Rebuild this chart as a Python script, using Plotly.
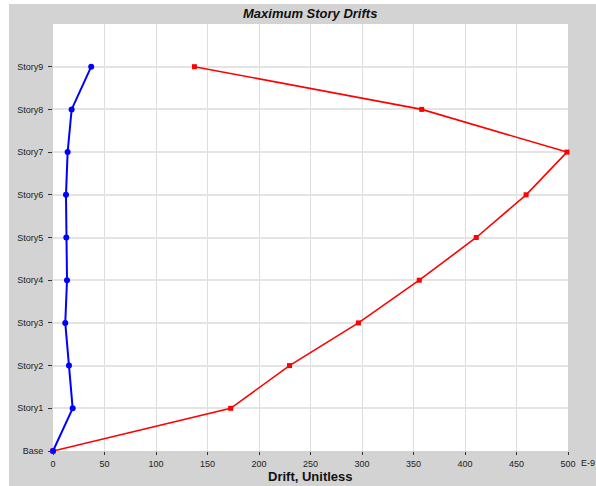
import plotly.graph_objects as go

stories = ["Base", "Story1", "Story2", "Story3", "Story4", "Story5", "Story6", "Story7", "Story8", "Story9"]
drift_x = [0, 19.1, 15.5, 11.9, 13.6, 12.9, 12.6, 14.2, 18.1, 37.1]
drift_y = [0, 172.5, 229.6, 296.5, 355.6, 410.9, 459.3, 499.0, 358.0, 137.3]
x_ticks = [0, 50, 100, 150, 200, 250, 300, 350, 400, 450, 500]

W, H = 596, 486
L, R, T, B = 53, 568, 24, 451
pw, ph = R - L, B - T

def px_x(p):
    return (p - L) / pw

def px_y(p):
    return (B - p) / ph

levels = list(range(len(stories)))

fig = go.Figure()
fig.add_trace(go.Scatter(
    x=drift_y, y=levels, mode="lines+markers",
    line=dict(color="#ff0000", width=1.6),
    marker=dict(symbol="square", size=5, color="#ff0000"),
    cliponaxis=False, showlegend=False))
fig.add_trace(go.Scatter(
    x=drift_x, y=levels, mode="lines+markers",
    line=dict(color="#0000ff", width=2),
    marker=dict(symbol="circle", size=6, color="#0000ff"),
    cliponaxis=False, showlegend=False))

fig.add_shape(type="rect", xref="paper", yref="paper",
              x0=px_x(9), x1=px_x(597), y0=px_y(487), y1=px_y(4),
              fillcolor="#d3d3d3", line=dict(width=0), layer="below")
fig.add_shape(type="rect", xref="paper", yref="paper",
              x0=0, x1=1, y0=0, y1=1,
              fillcolor="white", line=dict(width=0), layer="below")

fig.add_annotation(text="<b><i>Maximum Story Drifts</i></b>", xref="paper", yref="paper",
                   x=px_x(310), y=px_y(14), xanchor="center", yanchor="middle", showarrow=False,
                   font=dict(family="Liberation Sans, Arial", size=13, color="#111111"))
fig.add_annotation(text="<b>Drift, Unitless</b>", xref="paper", yref="paper",
                   x=px_x(310), y=px_y(476), xanchor="center", yanchor="middle", showarrow=False,
                   font=dict(family="Liberation Sans, Arial", size=13, color="#111111"))
fig.add_annotation(text="E-9", xref="paper", yref="paper",
                   x=px_x(579), y=px_y(463), xanchor="left", yanchor="middle", showarrow=False,
                   font=dict(family="Liberation Sans, Arial", size=9, color="#222222"))

fig.update_layout(
    width=W, height=H,
    margin=dict(l=L, r=W - R, t=T, b=H - B, pad=0),
    paper_bgcolor="white", plot_bgcolor="white",
    font=dict(family="Liberation Sans, Arial", size=9, color="#222222"),
    xaxis=dict(range=[0, 500], tickvals=x_ticks, ticktext=[str(v) for v in x_ticks],
               showgrid=True, gridcolor="#dedede", gridwidth=1, zeroline=False,
               ticks="outside", ticklen=3, tickcolor="#333333", showline=False,
               ticklabelstandoff=1),
    yaxis=dict(range=[0, 10], tickvals=levels, ticktext=stories,
               showgrid=True, gridcolor="#e4e4e4", gridwidth=1.5, zeroline=False,
               ticks="outside", ticklen=4, tickcolor="#333333", showline=False,
               ticklabelstandoff=3),
)

fig.write_html("out.html", config={"displayModeBar": False},
               post_script="document.body.style.margin='0';document.body.style.overflow='hidden';")
